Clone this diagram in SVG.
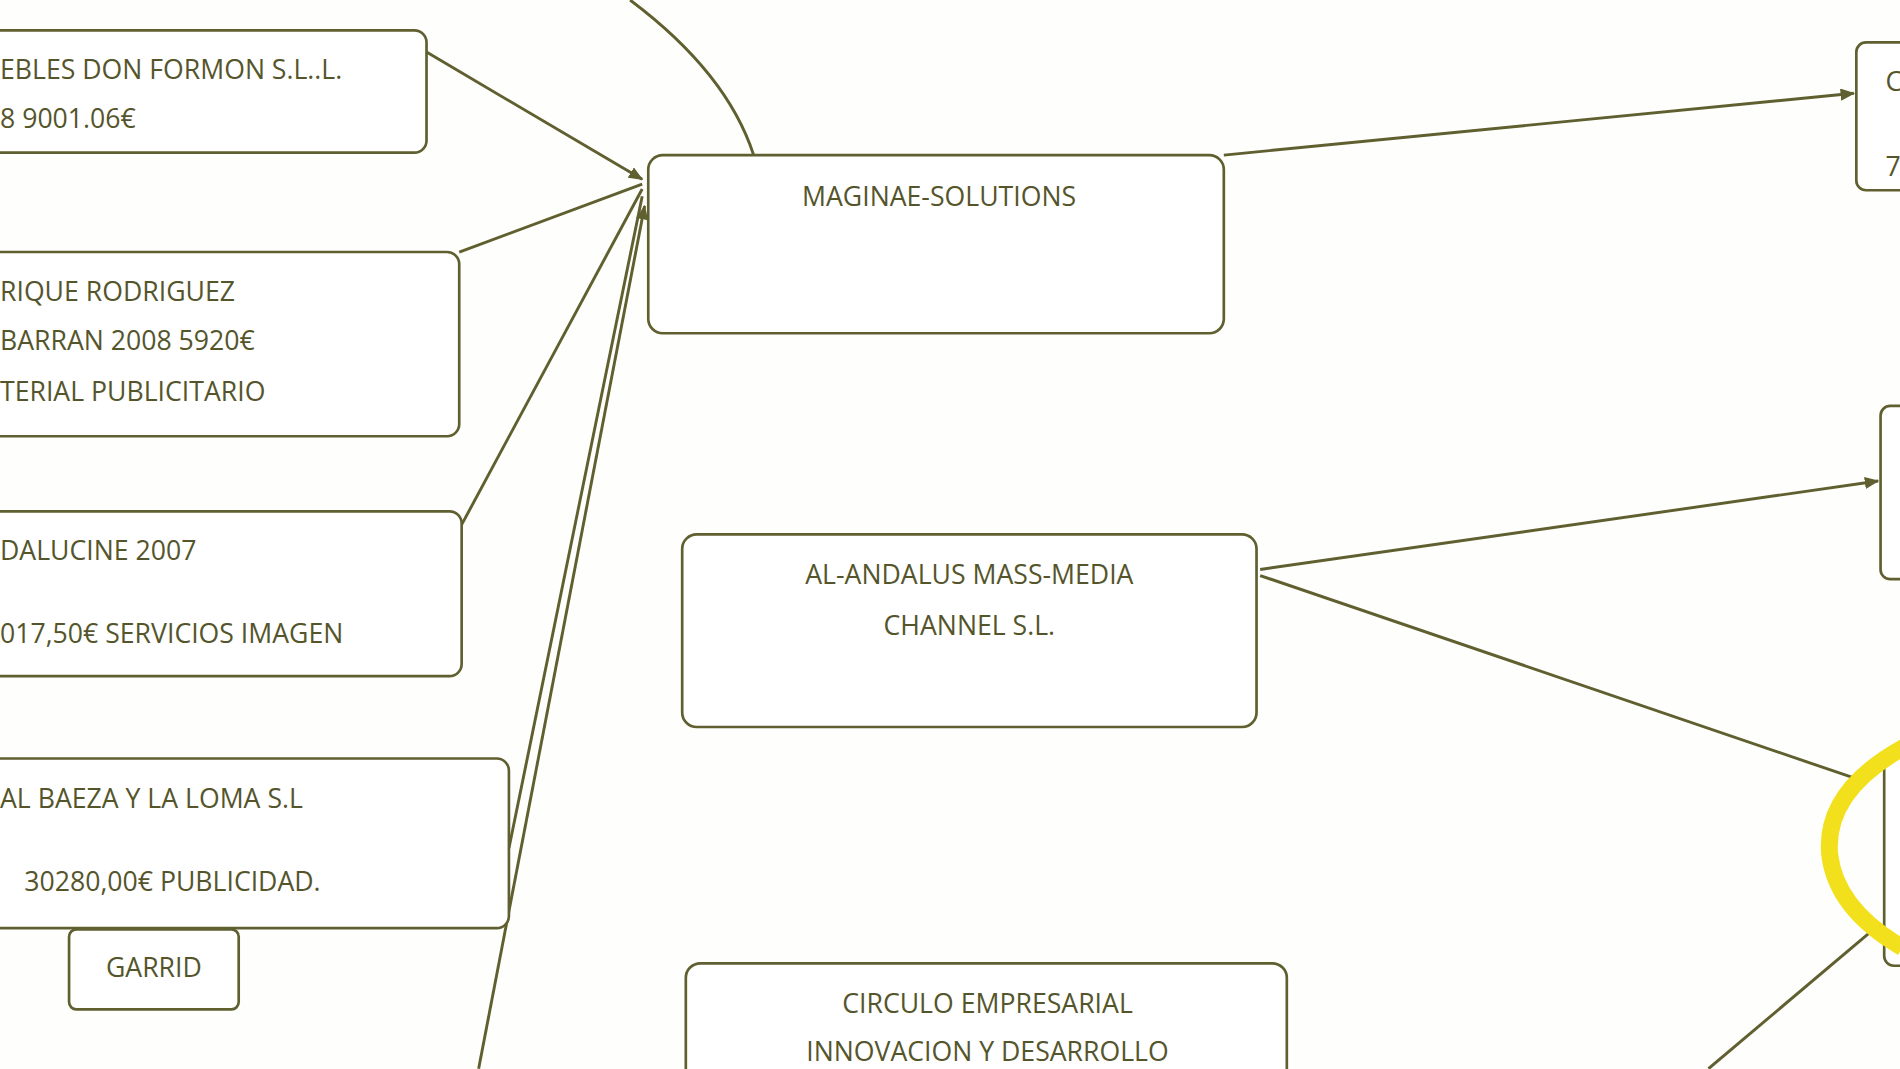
<svg xmlns="http://www.w3.org/2000/svg" width="1900" height="1069" viewBox="0 0 1900 1069">
<style>
.b{fill:#fff;stroke:#5f5f30;stroke-width:2.2}
.l{fill:none;stroke:#5f5f30;stroke-width:2.4}
text{font-family:"Open Sans","Liberation Sans",sans-serif;font-size:22px;fill:#55552c}
</style>
<defs><marker id="a" markerWidth="12" markerHeight="10" refX="11" refY="5" orient="auto" markerUnits="userSpaceOnUse"><path d="M0,0 L12,5 L0,10z" fill="#5f5f30"/></marker></defs>
<rect width="1900" height="1069" fill="#fefefc"/>
<g transform="scale(1.2117)">
<g id="connectors">
<path class="l" d="M520,0 Q600,60 622,128"/>
<line class="l" x1="352" y1="43" x2="530" y2="148" marker-end="url(#a)"/>
<line class="l" x1="379" y1="208" x2="530" y2="152"/>
<line class="l" x1="381" y1="433" x2="530" y2="156"/>
<line class="l" x1="420" y1="700" x2="530" y2="162"/>
<line class="l" x1="395" y1="882" x2="532" y2="170" marker-end="url(#a)"/>
<line class="l" x1="1010" y1="128" x2="1530" y2="77" marker-end="url(#a)"/>
<line class="l" x1="1040" y1="470" x2="1550" y2="397" marker-end="url(#a)"/>
<line class="l" x1="1040" y1="475" x2="1530" y2="642"/>
<line class="l" x1="1410" y1="882" x2="1545" y2="768"/>
</g>
<g id="n1"><rect class="b" x="-10" y="25" width="362" height="101" rx="10"/><text x="0" y="65">EBLES DON FORMON S.L..L.</text><text x="0" y="106">8  9001.06€</text></g>
<g id="n2"><rect class="b" x="-10" y="208" width="389" height="152" rx="10"/><text x="0" y="248">RIQUE RODRIGUEZ</text><text x="0" y="289">BARRAN 2008   5920€</text><text x="0" y="331">TERIAL PUBLICITARIO</text></g>
<g id="n3"><rect class="b" x="-10" y="422" width="391" height="136" rx="10"/><text x="0" y="462">DALUCINE 2007</text><text x="0" y="531">017,50€ SERVICIOS IMAGEN</text></g>
<g id="n4"><rect class="b" x="-10" y="626" width="430" height="140" rx="10"/><text x="0" y="667">AL BAEZA Y  LA LOMA S.L</text><text x="20" y="735">30280,00€ PUBLICIDAD.</text></g>
<g id="n5"><rect class="b" x="57" y="767" width="140" height="66" rx="6"/><text x="127" y="806" text-anchor="middle">GARRID</text></g>
<g id="n6"><rect class="b" x="535" y="128" width="475" height="147" rx="12"/><text x="775" y="170" text-anchor="middle">MAGINAE-SOLUTIONS</text></g>
<g id="n7"><rect class="b" x="563" y="441" width="474" height="159" rx="12"/><text x="800" y="482" text-anchor="middle">AL-ANDALUS MASS-MEDIA</text><text x="800" y="524" text-anchor="middle">CHANNEL S.L.</text></g>
<g id="n8"><rect class="b" x="566" y="795" width="496" height="120" rx="12"/><text x="815" y="836" text-anchor="middle">CIRCULO EMPRESARIAL</text><text x="815" y="876" text-anchor="middle">INNOVACION Y DESARROLLO</text></g>
<g id="n9"><rect class="b" x="1532" y="35" width="60" height="122" rx="8"/><text x="1556" y="75">C</text><text x="1556" y="145">7</text></g>
<g id="n10"><rect class="b" x="1552" y="335" width="40" height="143" rx="8"/></g>
<g id="n11"><rect class="b" x="1555" y="622" width="40" height="175" rx="8"/></g>
<path d="M1580,612 Q1505,650 1510,705 Q1515,750 1570,782" fill="none" stroke="#f2e01c" stroke-width="14"/>
</g>
</svg>
